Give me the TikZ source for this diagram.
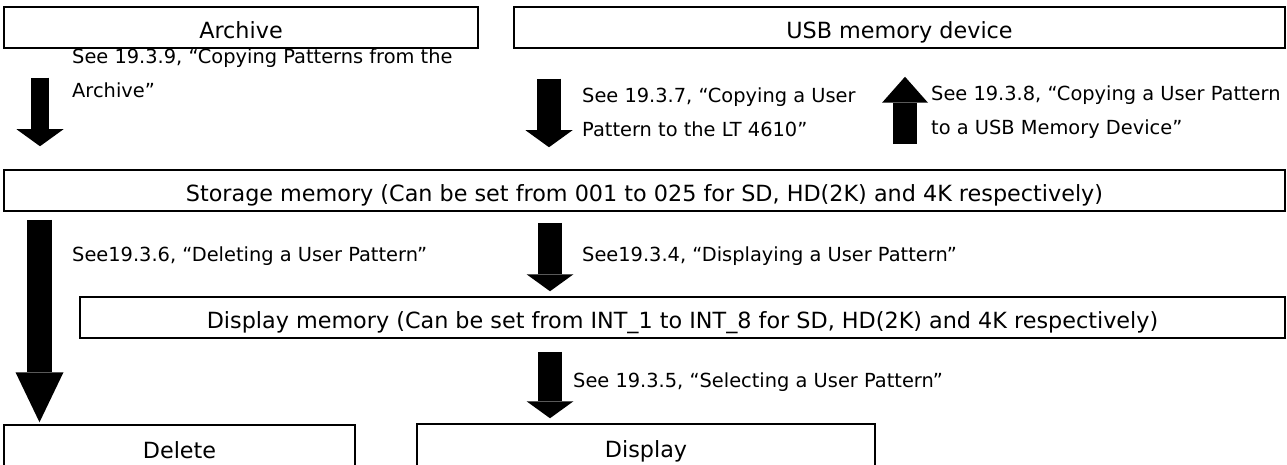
\documentclass[tikz,border=0pt]{standalone}
\usepackage{fontspec}
\setmainfont{DejaVu Sans}
\usetikzlibrary{arrows.meta, positioning}

\begin{document}
\begin{tikzpicture}[x=1pt, y=-1pt,
  box/.style={draw, line width=1.5pt, inner sep=0pt, minimum height=41pt,
              text height=22pt, text depth=0pt, font=\fontsize{22.3}{26}\selectfont},
  lbl/.style={anchor=west, align=left, inner sep=0pt,
              font=\fontsize{19.4}{34}\selectfont},
  blk/.style={line width=24pt, -{Triangle[length=17pt, width=47pt, line width=0pt]}}]
\clip (0,0) rectangle (1287,465);
% sources
\node[box, minimum width=474pt] (arch) at (241,27.5) {Archive};
\node[box, minimum width=771pt] (usb) at (899.5,27.5) {USB memory device};
% memories
\node[box, minimum width=1281pt] (stor) at (644.5,190.5)
  {Storage memory (Can be set from 001 to 025 for SD, HD(2K) and 4K respectively)};
\node[box, minimum width=1205pt] (dmem) at (682.5,317.5)
  {Display memory (Can be set from INT\_1 to INT\_8 for SD, HD(2K) and 4K respectively)};
% results
\node[box, minimum width=351pt, minimum height=45pt] (del) at (179.5,447.5) {Delete};
\node[box, minimum width=458pt, minimum height=45pt] (disp) at (646,446.5) {Display};
% copy arrows
\draw[blk, line width=18pt, shorten <=29pt, shorten >=23pt]
  ([xshift=36.75pt]arch.south west) -- ([xshift=36.75pt]arch.south west |- stor.north);
\draw[blk, shorten <=30pt, shorten >=22pt]
  ([xshift=35.75pt]usb.south west) -- ([xshift=35.75pt]usb.south west |- stor.north);
\draw[blk, -{Triangle[length=26pt, width=46pt, line width=0pt]}, shorten <=25pt, shorten >=28pt]
  ([xshift=391.75pt]usb.south west |- stor.north) -- ([xshift=391.75pt]usb.south west);
\node[lbl] (t1) at (72,73.5) {See 19.3.9, “Copying Patterns from the\\Archive”};
\node[lbl] (t2) at (582,112.5) {See 19.3.7, “Copying a User\\Pattern to the LT 4610”};
\node[lbl] (t3) at (931,112.5) {See 19.3.8, “Copying a User Pattern\\to a USB Memory Device”};
% use arrows
\draw[blk, line width=25pt, -{Triangle[length=50pt, width=48pt, line width=0pt]}, shorten <=8pt, shorten >=2pt]
  ([xshift=36.25pt]stor.south west) -- ([xshift=36.25pt]stor.south west |- del.north);
\draw[blk, shorten <=11pt, shorten >=5pt]
  ([xshift=546.75pt]stor.south west) -- ([xshift=546.75pt]stor.south west |- dmem.north);
\draw[blk, shorten <=13pt, shorten >=5pt]
  ([xshift=133.75pt]disp.north west |- dmem.south) -- ([xshift=133.75pt]disp.north west);
\node[lbl] (t4) at (72,256) {See19.3.6, “Deleting a User Pattern”};
\node[lbl] (t5) at (582,256) {See19.3.4, “Displaying a User Pattern”};
\node[lbl] (t6) at (573,382) {See 19.3.5, “Selecting a User Pattern”};
\end{tikzpicture}
\end{document}
